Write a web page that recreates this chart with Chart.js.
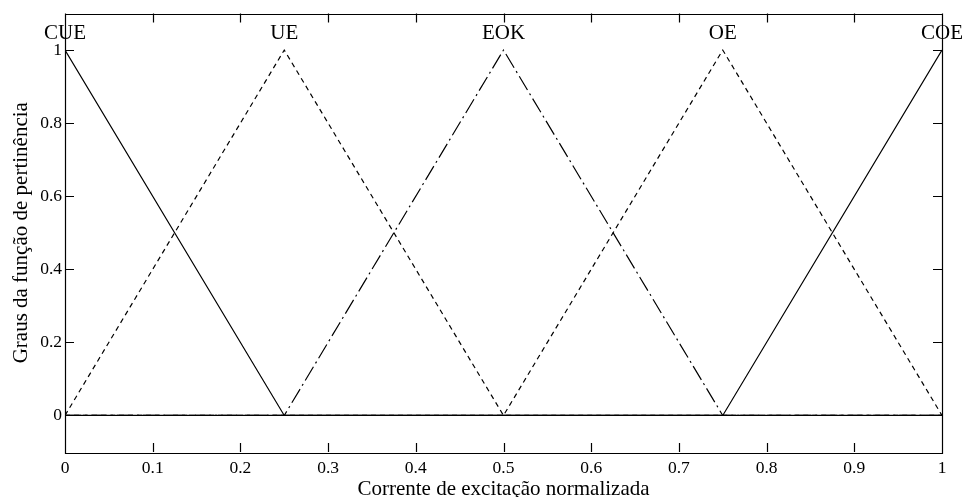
<!DOCTYPE html>
<html>
<head>
<meta charset="utf-8">
<script src="https://cdn.jsdelivr.net/npm/chart.js@4/dist/chart.umd.min.js"></script>
<style>
  html, body { margin: 0; padding: 0; background: #fff; }
  #wrap { width: 965px; height: 497px; }
</style>
</head>
<body>
<div id="wrap"><canvas id="c" width="965" height="497"></canvas></div>
<script>
// Triangular membership functions on the normalised excitation current
const xBreaks = [0, 0.25, 0.5, 0.75, 1];
const cue = [1, 0, 0, 0, 0];
const ue  = [0, 1, 0, 0, 0];
const eok = [0, 0, 1, 0, 0];
const oe  = [0, 0, 0, 1, 0];
const coe = [0, 0, 0, 0, 1];

const setNames = ['CUE', 'UE', 'EOK', 'OE', 'COE'];
const setPeaks = [0, 0.25, 0.5, 0.75, 1];
const labelLevel = 1.03;

const xTicks = [0, 0.1, 0.2, 0.3, 0.4, 0.5, 0.6, 0.7, 0.8, 0.9, 1];
const yTicks = [0, 0.2, 0.4, 0.6, 0.8, 1];
const xTickText = ['0', '0.1', '0.2', '0.3', '0.4', '0.5', '0.6', '0.7', '0.8', '0.9', '1'];
const yTickText = ['0', '0.2', '0.4', '0.6', '0.8', '1'];

const xTitle = 'Corrente de excitação normalizada';
const yTitle = 'Graus da função de pertinência';

const SERIF = '"Liberation Serif", "Times New Roman", serif';

function pts(ys) { return xBreaks.map((x, i) => ({ x: x, y: ys[i] })); }

function series(label, ys, dash) {
  return {
    label: label,
    data: pts(ys),
    borderColor: '#000',
    backgroundColor: '#000',
    borderWidth: 1.2,
    borderDash: dash,
    pointRadius: 0,
    tension: 0,
    fill: false
  };
}

// Box frame with inward ticks, set names over the peaks and both axis titles
const framePlugin = {
  id: 'frame',
  afterDraw(chart) {
    const ctx = chart.ctx;
    const a = chart.chartArea;
    const sx = chart.scales.x, sy = chart.scales.y;
    const tl = 9;
    ctx.save();
    ctx.strokeStyle = '#000';
    ctx.lineWidth = 1.2;
    ctx.setLineDash([]);
    ctx.beginPath();
    ctx.rect(Math.round(a.left) + 0.5, Math.round(a.top) + 0.5,
             Math.round(a.right - a.left), Math.round(a.bottom - a.top));
    xTicks.forEach(v => {
      const px = Math.round(sx.getPixelForValue(v)) + 0.5;
      ctx.moveTo(px, a.bottom); ctx.lineTo(px, a.bottom - tl);
      ctx.moveTo(px, a.top); ctx.lineTo(px, a.top + tl);
    });
    yTicks.forEach(v => {
      const py = Math.round(sy.getPixelForValue(v)) + 0.5;
      ctx.moveTo(a.left, py); ctx.lineTo(a.left + tl, py);
      ctx.moveTo(a.right, py); ctx.lineTo(a.right - tl, py);
    });
    ctx.stroke();

    ctx.fillStyle = '#000';
    ctx.font = '21px ' + SERIF;
    ctx.textAlign = 'center';
    ctx.textBaseline = 'alphabetic';
    setNames.forEach((n, i) => {
      ctx.fillText(n, sx.getPixelForValue(setPeaks[i]), sy.getPixelForValue(labelLevel));
    });

    ctx.fillText(xTitle, (a.left + a.right) / 2, 495);

    ctx.translate(27, (a.top + a.bottom) / 2);
    ctx.rotate(-Math.PI / 2);
    ctx.fillText(yTitle, 0, 0);
    ctx.restore();
  }
};

new Chart(document.getElementById('c'), {
  type: 'line',
  data: {
    datasets: [
      series('CUE', cue, []),
      series('UE', ue, [5, 4]),
      series('EOK', eok, [16, 4, 2, 4]),
      series('OE', oe, [5, 4]),
      series('COE', coe, [])
    ]
  },
  options: {
    responsive: false,
    animation: false,
    devicePixelRatio: 1,
    layout: { padding: { left: 0, right: 23, top: 12, bottom: 0 } },
    plugins: { legend: { display: false }, tooltip: { enabled: false } },
    scales: {
      x: {
        type: 'linear',
        min: 0, max: 1,
        afterBuildTicks: s => { s.ticks = xTicks.map(v => ({ value: v })); },
        afterFit: s => { s.height = 45; },
        ticks: {
          autoSkip: false, maxRotation: 0, padding: 6, color: '#000',
          font: { family: SERIF, size: 17.5 },
          callback: (v, i) => xTickText[i]
        },
        grid: { display: false, drawTicks: false },
        border: { display: false }
      },
      y: {
        type: 'linear',
        min: -0.1, max: 1.1,
        afterBuildTicks: s => { s.ticks = yTicks.map(v => ({ value: v })); },
        afterFit: s => { s.width = 65; },
        ticks: {
          autoSkip: false, padding: 3, color: '#000',
          font: { family: SERIF, size: 17.5 },
          callback: (v, i) => yTickText[i]
        },
        grid: { display: false, drawTicks: false },
        border: { display: false }
      }
    }
  },
  plugins: [framePlugin]
});
</script>
</body>
</html>
